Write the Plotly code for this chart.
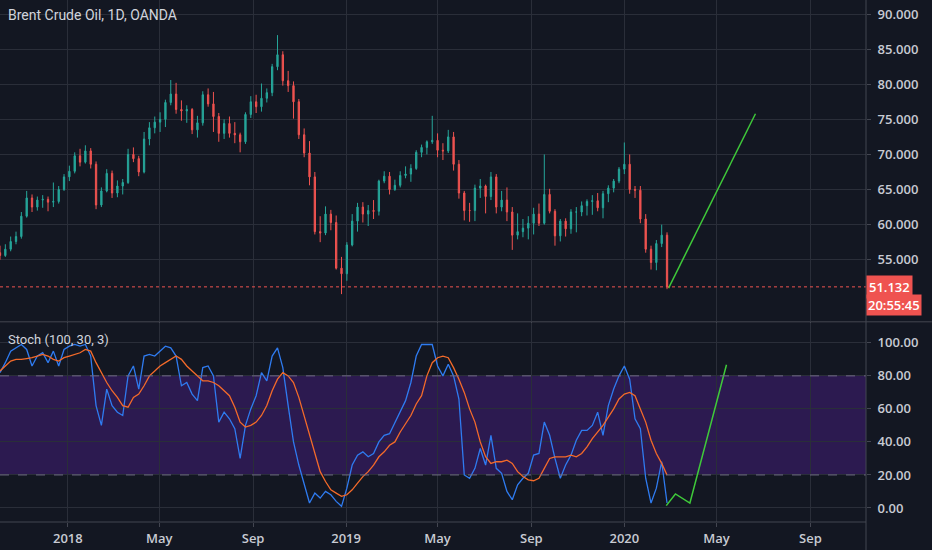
import pandas as pd
import plotly.graph_objects as go
from plotly.subplots import make_subplots

# weekly candles (Brent, OANDA)
weeks = pd.date_range("2017-10-04", periods=126, freq="7D")

opens = [56.0, 55.6, 56.5, 57.6, 58.3, 61.2, 63.8, 62.5, 63.5, 63.6,
         63.2, 63.3, 65.0, 66.8, 67.6, 69.8, 68.9, 70.5, 68.6, 62.8,
         64.8, 67.3, 64.5, 65.5, 66.0, 70.0, 69.4, 67.5, 72.2, 73.8,
         74.6, 75.0, 77.4, 78.6, 76.4, 76.2, 76.4, 73.5, 74.5, 78.5,
         77.2, 75.4, 73.0, 74.4, 73.0, 72.8, 71.8, 75.7, 77.5, 76.8,
         78.0, 78.8, 82.5, 84.2, 80.5, 79.8, 77.5, 72.8, 70.2, 66.8,
         59.0, 58.8, 61.5, 60.3, 53.8, 53.0, 57.1, 60.5, 62.5, 61.5,
         62.0, 61.9, 66.2, 66.9, 65.0, 65.6, 67.0, 67.2, 68.0, 70.3,
         71.0, 71.8, 72.0, 70.6, 70.5, 72.5, 68.6, 64.5, 62.0, 62.0,
         65.2, 65.5, 64.0, 66.8, 62.5, 63.5, 61.8, 58.5, 59.0, 59.5,
         60.2, 61.5, 60.2, 64.3, 61.9, 58.4, 60.5, 59.4, 61.8, 61.8,
         62.7, 63.3, 63.4, 62.4, 64.4, 65.2, 66.2, 67.9, 68.6, 65.0,
         64.9, 60.8, 56.5, 54.6, 57.3, 58.5]
highs = [57.0, 57.2, 58.3, 59.0, 61.8, 64.8, 64.3, 64.0, 64.2, 64.0,
         66.0, 65.5, 67.2, 68.4, 70.3, 70.8, 71.3, 70.9, 69.0, 65.3,
         67.9, 67.7, 66.3, 66.5, 70.8, 71.0, 69.8, 73.2, 74.6, 75.4,
         76.0, 77.8, 80.6, 80.2, 77.7, 77.0, 76.6, 75.5, 79.0, 79.4,
         78.9, 75.9, 75.0, 75.4, 74.6, 73.1, 76.0, 78.3, 78.5, 80.1,
         79.4, 82.9, 87.0, 84.7, 81.9, 80.4, 77.9, 73.7, 71.9, 67.5,
         61.2, 62.6, 62.1, 61.3, 55.4, 57.5, 61.5, 63.1, 63.2, 62.8,
         63.5, 66.4, 67.6, 67.5, 66.4, 67.6, 68.3, 68.6, 70.6, 71.4,
         72.0, 75.5, 73.0, 71.6, 73.5, 73.2, 69.2, 64.8, 63.1, 65.7,
         66.5, 65.7, 67.5, 67.2, 64.8, 65.3, 62.5, 61.6, 60.8, 61.2,
         62.4, 63.0, 70.0, 65.1, 62.2, 60.8, 60.9, 62.2, 62.5, 63.3,
         63.6, 64.2, 64.5, 64.8, 65.6, 66.5, 68.2, 71.7, 70.0, 65.5,
         65.5, 61.5, 57.0, 57.8, 60.0, 58.9]
lows = [55.0, 55.4, 56.2, 57.2, 58.0, 61.0, 61.8, 62.0, 62.4, 61.9,
        62.5, 63.0, 64.8, 66.2, 67.3, 68.3, 68.7, 68.0, 62.2, 62.5,
        64.6, 63.8, 63.9, 64.3, 65.8, 68.9, 66.9, 67.3, 71.3, 73.0,
        73.2, 73.9, 77.0, 75.8, 74.8, 74.5, 72.9, 72.4, 74.1, 76.8,
        73.2, 71.8, 72.2, 72.4, 71.6, 70.3, 71.5, 75.2, 75.9, 76.1,
        77.4, 78.3, 82.0, 79.8, 78.9, 75.1, 72.2, 69.6, 65.6, 58.6,
        57.5, 58.5, 59.2, 53.6, 50.1, 52.0, 56.9, 59.0, 60.3, 59.8,
        60.8, 61.3, 65.9, 64.3, 64.8, 65.3, 66.6, 66.1, 67.8, 69.6,
        70.0, 71.5, 69.6, 69.2, 70.2, 67.7, 63.7, 60.6, 60.4, 60.5,
        63.8, 61.6, 63.5, 61.6, 61.9, 60.5, 56.4, 57.9, 58.2, 57.9,
        58.6, 59.8, 60.0, 61.6, 57.0, 57.6, 58.3, 58.7, 58.9, 61.2,
        61.3, 61.4, 61.9, 60.9, 63.2, 64.6, 65.9, 67.2, 64.4, 63.8,
        60.2, 56.0, 53.6, 53.5, 56.8, 50.8]
closes = [55.6, 56.5, 57.6, 58.3, 61.2, 63.8, 62.5, 63.5, 63.6, 63.2,
          63.3, 65.0, 66.8, 67.6, 69.8, 68.9, 70.5, 68.6, 62.8, 64.8,
          67.3, 64.5, 65.5, 66.0, 70.0, 69.4, 67.5, 72.2, 73.8, 74.6,
          75.0, 77.4, 78.6, 76.4, 76.2, 76.4, 73.5, 74.5, 78.5, 77.2,
          75.4, 73.0, 74.4, 73.0, 72.8, 71.8, 75.7, 77.5, 76.8, 78.0,
          78.8, 82.5, 84.2, 80.5, 79.8, 77.5, 72.8, 70.2, 66.8, 59.0,
          58.8, 61.5, 60.3, 53.8, 53.0, 57.1, 60.5, 62.5, 61.5, 62.0,
          61.9, 66.2, 66.9, 65.0, 65.6, 67.0, 67.2, 68.0, 70.3, 71.0,
          71.8, 72.0, 70.6, 70.5, 72.5, 68.6, 64.5, 62.0, 62.0, 65.2,
          65.5, 64.0, 66.8, 62.5, 63.5, 61.8, 58.5, 59.0, 59.5, 60.2,
          61.5, 60.2, 64.3, 61.9, 58.4, 60.5, 59.4, 61.8, 61.8, 62.7,
          63.3, 63.4, 62.4, 64.4, 65.2, 66.2, 67.9, 68.6, 65.0, 64.9,
          60.8, 56.5, 54.6, 57.3, 58.5, 51.132]

# Stoch (100, 30, 3)
stoch_k = [82, 88, 95, 97, 99, 96, 86, 92, 94, 88,
           95, 86, 96, 98, 99, 98, 99, 92, 62, 50,
           72, 62, 58, 56, 80, 86, 72, 92, 93, 92,
           95, 98, 97, 92, 74, 76, 69, 65, 85, 86,
           80, 52, 58, 54, 48, 30, 50, 60, 68, 82,
           77, 92, 97, 85, 62, 40, 26, 15, 3, 9,
           6, 10, 8, 4, 1, 12, 26, 32, 34, 31,
           33, 40, 44, 45, 52, 58, 65, 76, 92, 99,
           99, 99, 86, 80, 87, 80, 66, 20, 18, 24,
           36, 26, 44, 24, 21, 10, 5, 14, 18, 21,
           32, 33, 52, 44, 30, 18, 26, 32, 41, 47,
           47, 50, 58, 44, 62, 72, 80, 86, 78, 54,
           48, 18, 3, 12, 28, 3]
stoch_d = [83, 86, 89, 90, 90, 90.5, 91, 92, 93, 92,
           90, 89, 91, 92, 93, 94, 96, 95, 88, 82,
           76, 71, 67, 62, 61, 67, 69, 74, 80, 83,
           86, 88, 90, 92, 90, 86, 83, 80, 77, 77,
           76, 74, 71, 68, 61, 52, 49, 50, 52, 56,
           62, 71, 78, 82, 80, 76, 67, 56, 45, 34,
           22, 16, 11, 9, 7, 8, 11, 15, 19, 22,
           26, 31, 34, 38, 40, 46, 51, 56, 63, 68,
           80, 88, 91, 92, 91, 85, 78, 70, 60, 52,
           40, 31, 27, 28, 28, 29, 27, 22, 19, 17,
           16.5, 18, 24, 30, 31, 31, 31, 32, 31, 33,
           37, 42, 46, 50, 55, 60, 66, 69, 70, 68,
           60, 52, 41, 33, 27, 20]

# hand-drawn projections
proj_price_x = ["2020-02-28", "2020-06-21"]
proj_price_y = [50.96, 75.8]
proj_stoch_x = ["2020-02-25", "2020-03-08", "2020-03-27", "2020-05-14"]
proj_stoch_y = [1.4, 8.5, 3.0, 86.7]

last_price = 51.132
tick_dates = ["2018-01-01", "2018-05-01", "2018-09-01", "2019-01-01", "2019-05-01",
              "2019-09-01", "2020-01-01", "2020-05-01", "2020-09-01"]
tick_text = ["2018", "May", "Sep", "2019", "May", "Sep", "2020", "May", "Sep"]

bg = "#131722"
grid = "#2a2e39"
txt = "#c8cbd3"
green = "#3fc93a"
axfont = dict(family="Open Sans", color=txt, size=13, weight=600)

fig = make_subplots(rows=2, cols=1, shared_xaxes=True, vertical_spacing=0.004,
                    row_heights=[0.617, 0.383])

fig.add_trace(go.Candlestick(x=weeks, open=opens, high=highs, low=lows, close=closes,
                             increasing=dict(line=dict(color="#26a69a", width=1), fillcolor="#26a69a"),
                             decreasing=dict(line=dict(color="#ef5350", width=1), fillcolor="#ef5350"),
                             showlegend=False, hoverinfo="skip"), row=1, col=1)
fig.add_trace(go.Scatter(x=proj_price_x, y=proj_price_y, mode="lines",
                         line=dict(color=green, width=1.5), showlegend=False), row=1, col=1)

fig.add_trace(go.Scatter(x=weeks, y=stoch_k, mode="lines",
                         line=dict(color="#2f7bf0", width=1.3), showlegend=False), row=2, col=1)
fig.add_trace(go.Scatter(x=weeks, y=stoch_d, mode="lines",
                         line=dict(color="#f36a2a", width=1.3), showlegend=False), row=2, col=1)
fig.add_trace(go.Scatter(x=proj_stoch_x, y=proj_stoch_y, mode="lines",
                         line=dict(color=green, width=1.5), showlegend=False), row=2, col=1)

# stoch band and levels
fig.add_shape(type="rect", xref="x2 domain", yref="y2", x0=0, x1=1, y0=20, y1=80,
              fillcolor="#2c1a50", line_width=0, layer="below")
for lvl in [20, 80]:
    fig.add_shape(type="line", xref="x2 domain", yref="y2", x0=0, x1=1, y0=lvl, y1=lvl,
                  line=dict(color="#6f6a85", width=1, dash="dash"))

# last price line
fig.add_shape(type="line", xref="x domain", yref="y", x0=0, x1=1, y0=last_price, y1=last_price,
              line=dict(color="#ef5350", width=1, dash="dot"))

# pane separators
fig.add_shape(type="line", xref="paper", yref="paper", x0=0, x1=1.076, y0=0.3835, y1=0.3835,
              line=dict(color="#434651", width=1))
fig.add_shape(type="line", xref="paper", yref="paper", x0=1, x1=1, y0=-0.06, y1=1,
              line=dict(color="#434651", width=1))
fig.add_shape(type="line", xref="paper", yref="paper", x0=0, x1=1, y0=0, y1=0,
              line=dict(color="#434651", width=1))

lblfont = dict(family="Open Sans", color="white", size=13, weight=600)
fig.add_annotation(xref="paper", yref="y", x=1, y=last_price, xanchor="left", xshift=0,
                   text="51.132", showarrow=False, bgcolor="#ef5350", font=lblfont, borderpad=2)
fig.add_annotation(xref="paper", yref="y", x=1, y=last_price, xanchor="left", xshift=0, yshift=-18,
                   text="20:55:45", showarrow=False, bgcolor="#ef5350", font=lblfont, borderpad=1)

fig.add_annotation(xref="paper", yref="paper", x=0, y=1, xanchor="left", yanchor="top",
                   xshift=6, yshift=-5, text="Brent Crude Oil, 1D, OANDA", showarrow=False,
                   font=dict(color="#d1d4dc", size=14))
fig.add_annotation(xref="paper", yref="paper", x=0, y=0.381, xanchor="left", yanchor="top",
                   xshift=6, yshift=-7, text="Stoch (100, 30, 3)", showarrow=False,
                   font=dict(color="#d1d4dc", size=13))

xcommon = dict(range=["2017-10-04", "2020-11-13"], tickvals=tick_dates, ticktext=tick_text,
               showgrid=True, gridcolor=grid, gridwidth=1, zeroline=False,
               tickfont=axfont, ticks="outside", ticklen=4, tickcolor="#434651")
fig.update_xaxes(**xcommon)
fig.update_xaxes(rangeslider_visible=False, row=1, col=1)

ycommon = dict(side="right", showgrid=True, gridcolor=grid, zeroline=False, tickfont=axfont,
               ticks="outside", ticklen=4, tickcolor="#434651", ticklabelstandoff=4)
fig.update_yaxes(row=1, col=1, range=[46.3, 92.0], tickvals=[55, 60, 65, 70, 75, 80, 85, 90],
                 tickformat=".3f", **ycommon)
fig.update_yaxes(row=2, col=1, range=[-8.5, 112.1], tickvals=[0, 20, 40, 60, 80, 100],
                 tickformat=".2f", **ycommon)

fig.update_layout(width=932, height=550, paper_bgcolor=bg, plot_bgcolor=bg,
                  margin=dict(l=0, r=66, t=0, b=28), font=dict(family="Roboto"),
                  showlegend=False, hovermode=False, boxgap=0.65)

fig.write_html("out.html", config={"displayModeBar": False},
               post_script="document.body.style.margin='0';document.body.style.background='#131722';")
